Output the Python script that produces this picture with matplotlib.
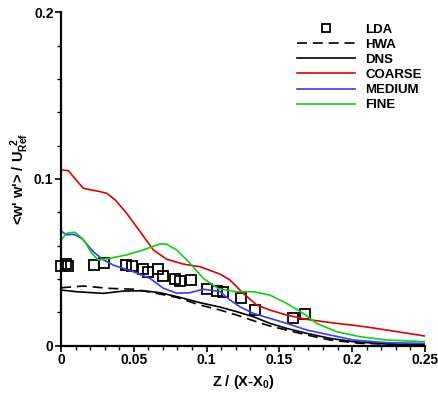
import matplotlib
matplotlib.use("Agg")
import matplotlib.pyplot as plt
from matplotlib.ticker import MultipleLocator, FuncFormatter

plt.rcParams['font.family'] = ['Liberation Sans', 'DejaVu Sans']
plt.rcParams['font.weight'] = 'bold'
plt.rcParams['mathtext.fontset'] = 'custom'
plt.rcParams['mathtext.rm'] = 'Liberation Sans:bold'
plt.rcParams['mathtext.bf'] = 'Liberation Sans:bold'
plt.rcParams['mathtext.it'] = 'Liberation Sans:bold:italic'

# LDA measurements
lda_x = [0.0, 0.0034, 0.005, 0.0227, 0.0297, 0.0444, 0.0488, 0.0561, 0.0598, 0.0668,
         0.0703, 0.0781, 0.0817, 0.0891, 0.1001, 0.1069, 0.1111, 0.1234, 0.1334, 0.1591, 0.1678]
lda_y = [0.0479, 0.0490, 0.0479, 0.0482, 0.0495, 0.0482, 0.0476, 0.0458, 0.0443, 0.0459,
         0.0416, 0.0401, 0.0389, 0.0395, 0.0341, 0.0326, 0.0321, 0.0283, 0.0213, 0.0165, 0.0187]

# HWA
hwa_x = [0.0, 0.0153, 0.0337, 0.0497, 0.0634, 0.0795, 0.0955, 0.1092, 0.1207, 0.1321,
         0.1435, 0.155, 0.1688, 0.1848, 0.2054, 0.25]
hwa_y = [0.0347, 0.0357, 0.0343, 0.0338, 0.0317, 0.0289, 0.0243, 0.0213, 0.0183, 0.0149,
         0.0117, 0.0093, 0.0063, 0.0033, 0.0013, 0.0003]

# DNS
dns_x = [0.0, 0.0108, 0.0291, 0.0428, 0.0565, 0.068, 0.0817, 0.0955, 0.1092, 0.1207,
         0.1321, 0.1435, 0.155, 0.1688, 0.1848, 0.2008, 0.2237, 0.25]
dns_y = [0.0333, 0.0323, 0.0313, 0.0327, 0.0329, 0.0317, 0.0289, 0.0257, 0.0231, 0.0203,
         0.0173, 0.0133, 0.0103, 0.0073, 0.0043, 0.0023, 0.0009, 0.0003]

# COARSE
coarse_x = [0.0, 0.005, 0.0153, 0.0268, 0.0314, 0.0371, 0.0451, 0.0543, 0.0634, 0.0726,
            0.084, 0.0955, 0.1092, 0.1161, 0.1252, 0.1344, 0.1435, 0.155, 0.1688, 0.1893,
            0.2054, 0.2237, 0.25]
coarse_y = [0.1054, 0.1050, 0.0944, 0.0924, 0.0914, 0.0876, 0.0794, 0.0684, 0.0574, 0.0518,
            0.0489, 0.0473, 0.0429, 0.0393, 0.0313, 0.0243, 0.0213, 0.0183, 0.0157, 0.0133,
            0.0117, 0.0093, 0.0057]

# MEDIUM
medium_x = [0.0, 0.0039, 0.0085, 0.0142, 0.0222, 0.0291, 0.0359, 0.0497, 0.0611, 0.0703,
            0.0795, 0.0886, 0.0977, 0.1092, 0.1161, 0.1229, 0.1321, 0.1435, 0.155, 0.1688,
            0.1848, 0.2008, 0.2237, 0.25]
medium_y = [0.0688, 0.0664, 0.0668, 0.0644, 0.0563, 0.0514, 0.0483, 0.0443, 0.0403, 0.0344,
            0.0314, 0.0317, 0.0338, 0.0324, 0.0273, 0.0233, 0.0193, 0.0163, 0.0133, 0.0093,
            0.0063, 0.0033, 0.0017, 0.0013]

# FINE
fine_x = [0.0, 0.0039, 0.0096, 0.0153, 0.0211, 0.0256, 0.0337, 0.0451, 0.0565, 0.068,
          0.0726, 0.0795, 0.0886, 0.0977, 0.108, 0.1207, 0.1321, 0.1435, 0.155, 0.1664,
          0.1756, 0.1893, 0.2054, 0.2237, 0.25]
fine_y = [0.0634, 0.0674, 0.0680, 0.0638, 0.0554, 0.0514, 0.0524, 0.0544, 0.0574, 0.0610,
          0.0608, 0.0574, 0.0494, 0.0404, 0.0341, 0.0323, 0.0323, 0.0303, 0.0253, 0.0193,
          0.0133, 0.0083, 0.0053, 0.0033, 0.0023]

x_ticks = [0, 0.05, 0.1, 0.15, 0.2, 0.25]
y_ticks = [0, 0.1, 0.2]

fig = plt.figure(figsize=(4.39, 3.96), dpi=100)
ax = fig.add_axes([0.139, 0.1275, 0.829, 0.841])

lw = 1.2
ax.plot(lda_x, lda_y, linestyle='none', marker='s', markersize=7, markerfacecolor='none',
        markeredgecolor='black', markeredgewidth=1.3, label='LDA', clip_on=False)
ax.plot(hwa_x, hwa_y, color='black', lw=lw, dashes=(6, 3.5), label='HWA')
ax.plot(dns_x, dns_y, color='black', lw=lw, label='DNS')
ax.plot(coarse_x, coarse_y, color='#e00000', lw=lw, label='COARSE')
ax.plot(medium_x, medium_y, color='#3a3aff', lw=lw, label='MEDIUM')
ax.plot(fine_x, fine_y, color='#10d010', lw=lw, label='FINE')

ax.set_xlim(0, 0.25)
ax.set_ylim(0, 0.2)
ax.set_xticks(x_ticks)
ax.set_yticks(y_ticks)
fmt = FuncFormatter(lambda v, p: '%g' % round(v, 4))
ax.xaxis.set_major_formatter(fmt)
ax.yaxis.set_major_formatter(fmt)
ax.xaxis.set_minor_locator(MultipleLocator(0.01))
ax.yaxis.set_minor_locator(MultipleLocator(0.02))
ax.tick_params(which='major', direction='out', length=4, width=1.2, labelsize=10, pad=1.5)
ax.tick_params(which='minor', direction='out', length=3, width=1.0)
for lab in ax.get_xticklabels() + ax.get_yticklabels():
    lab.set_fontweight('bold')

for s in ['top', 'right']:
    ax.spines[s].set_visible(False)
for s in ['left', 'bottom']:
    ax.spines[s].set_linewidth(1.6)

ax.set_xlabel(r"Z / (X-X$_\mathrm{0}$)", fontsize=10.5, fontweight='bold', labelpad=4)
ax.set_ylabel(r"<w' w'> / U$_{\mathrm{Ref}}^{\ \ \mathrm{2}}$", fontsize=10.5, fontweight='bold', labelpad=2)

leg = ax.legend(loc='upper left', bbox_to_anchor=(0.648, 0.967), frameon=False, fontsize=9.5,
                handlelength=4.4, handletextpad=0.8, labelspacing=0.22, borderaxespad=0,
                borderpad=0, markerscale=0.8)
for t in leg.get_texts():
    t.set_fontweight('bold')

fig.savefig('out.png', dpi=100)
